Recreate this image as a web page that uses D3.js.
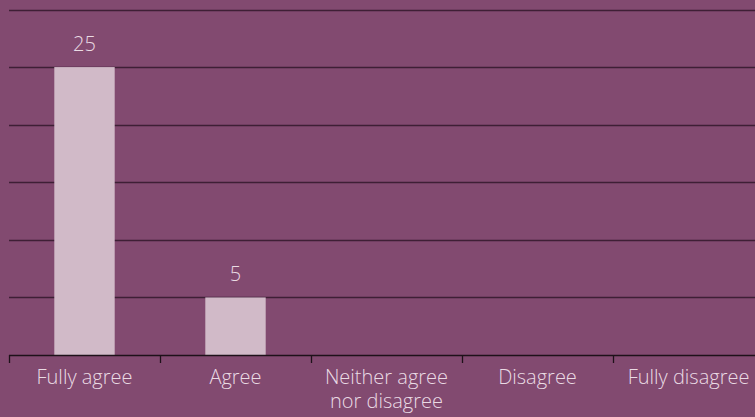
<!DOCTYPE html>
<html>
<head>
<meta charset="utf-8">
<script src="https://cdn.jsdelivr.net/npm/d3@7"></script>
<style>
  html, body { margin: 0; padding: 0; background: #824a70; }
  svg { display: block; }
  text { font-family: "Open Sans", "Segoe UI", sans-serif; font-weight: 300; fill: #eadbe4; }
</style>
</head>
<body>
<svg id="chart" width="755" height="417"></svg>
<script>
// Survey answers and how many respondents picked each
const categories = ["Fully agree", "Agree", "Neither agree\nnor disagree", "Disagree", "Fully disagree"];
const counts = [25, 5, 0, 0, 0];
const gridValues = [5, 10, 15, 20, 25, 30];

const W = 755, H = 417;
const plotLeft = 9, plotRight = 764, plotBase = 355, plotTop = 9.5;

const svg = d3.select("#chart");
svg.append("rect").attr("width", W).attr("height", H).attr("fill", "#824a70");

const x = d3.scaleBand()
  .domain(categories)
  .range([plotLeft, plotRight])
  .paddingInner(0.6)
  .paddingOuter(0.3);

const y = d3.scaleLinear().domain([0, 30]).range([plotBase, plotTop]);

// horizontal gridlines
svg.append("g").selectAll("line")
  .data(gridValues)
  .join("line")
  .attr("x1", plotLeft).attr("x2", W)
  .attr("y1", d => Math.round(y(d)) + 0.5)
  .attr("y2", d => Math.round(y(d)) + 0.5)
  .attr("stroke", "#3e1f35")
  .attr("stroke-width", 1.3);

const rows = categories.map((c, i) => ({ c, v: counts[i] })).filter(d => d.v > 0);

// bars
svg.append("g").selectAll("rect")
  .data(rows)
  .join("rect")
  .attr("x", d => x(d.c))
  .attr("width", x.bandwidth())
  .attr("y", d => y(d.v))
  .attr("height", d => plotBase - y(d.v))
  .attr("fill", "#d1bac8");

// value labels
svg.append("g").selectAll("text")
  .data(rows)
  .join("text")
  .attr("x", d => x(d.c) + x.bandwidth() / 2)
  .attr("y", d => y(d.v) - 16.5)
  .attr("text-anchor", "middle")
  .attr("font-size", 20)
  .text(d => d.v);

// category axis with ticks on band boundaries
const axis = svg.append("g");
axis.append("line")
  .attr("x1", plotLeft).attr("x2", W)
  .attr("y1", plotBase + 0.5).attr("y2", plotBase + 0.5)
  .attr("stroke", "#1e1119").attr("stroke-width", 1.3);

const step = x.step();
axis.selectAll("line.tick")
  .data(categories)
  .join("line")
  .attr("class", "tick")
  .attr("x1", d => Math.round(x(d) - step * x.paddingOuter()) + 0.5)
  .attr("x2", d => Math.round(x(d) - step * x.paddingOuter()) + 0.5)
  .attr("y1", plotBase).attr("y2", plotBase + 8)
  .attr("stroke", "#1e1119").attr("stroke-width", 1.3);

axis.selectAll("text.cat")
  .data(categories)
  .join("text")
  .attr("class", "cat")
  .attr("text-anchor", "middle")
  .attr("font-size", 20)
  .attr("transform", d => `translate(${x(d) + x.bandwidth() / 2},384)`)
  .each(function(d) {
    const t = d3.select(this);
    d.split("\n").forEach((line, i) => {
      t.append("tspan").attr("x", 0).attr("dy", i === 0 ? 0 : 24).text(line);
    });
  });
</script>
</body>
</html>
